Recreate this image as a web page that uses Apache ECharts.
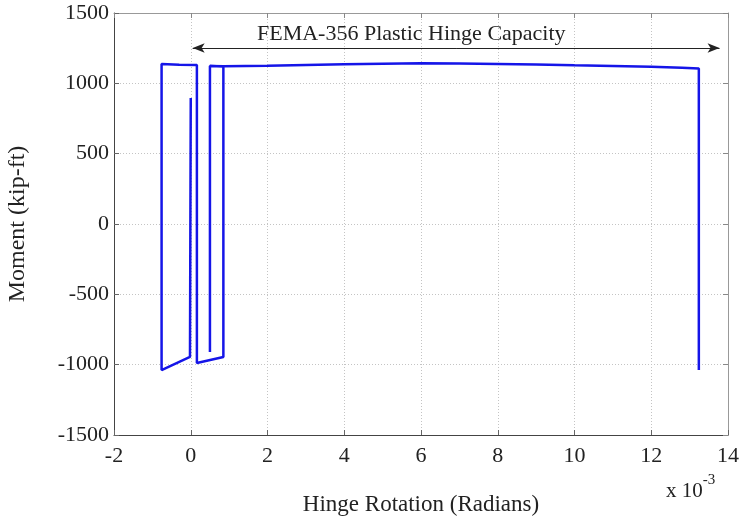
<!DOCTYPE html>
<html>
<head>
<meta charset="utf-8">
<script src="https://cdn.jsdelivr.net/npm/echarts@6/dist/echarts.min.js"></script>
<style>
  html, body { margin: 0; padding: 0; background: #fff; }
  #main { width: 739px; height: 522px; }
</style>
</head>
<body>
<div id="main"></div>
<script>
// 转角 (x 10^-3 rad) 和 弯矩 (kip-ft)
var rotation = [0, -0.02, -0.76, -0.76, -0.3, 0.16, 0.16, 0.85, 0.85, 0.5, 0.5, 0.5, 0.85, 2, 3, 4, 5, 6, 7, 8, 9, 10, 11, 12, 12.8, 13.24, 13.24];
var moment   = [896, -945, -1038, 1137, 1132, 1130, -988, -945, 1120, 1124, -910, 1124, 1122, 1125, 1130, 1135, 1140, 1142, 1141, 1137, 1133, 1128, 1124, 1118, 1110, 1105, -1038];

var xTicks = [-2, 0, 2, 4, 6, 8, 10, 12, 14];
var yTicks = [-1500, -1000, -500, 0, 500, 1000, 1500];

// 塑性铰能力箭头的两端
var arrowX = [0.05, 13.78];
var arrowY = 1251;

var curve = rotation.map(function (r, i) { return [r, moment[i]]; });

var myChart = echarts.init(document.getElementById('main'));

var font = 'Liberation Serif, Times New Roman, serif';

var option = {
    backgroundColor: '#fff',
    animation: false,
    grid: { left: 114, right: 11, top: 13, bottom: 87, containLabel: false, outerBoundsMode: 'none' },
    xAxis: [{
        type: 'value',
        min: xTicks[0],
        max: xTicks[xTicks.length - 1],
        interval: 2,
        name: 'Hinge Rotation (Radians)',
        nameLocation: 'middle',
        nameGap: 58,
        nameTextStyle: { fontFamily: font, fontSize: 23, color: '#222' },
        axisLine: { onZero: false, lineStyle: { color: '#444', width: 1 } },
        axisTick: { inside: true, length: 5, lineStyle: { color: '#666' } },
        axisLabel: { fontFamily: font, fontSize: 22, color: '#222', margin: 10 },
        splitLine: { show: true, lineStyle: { color: '#c4c4c4', type: [1, 2] } }
    }, {
        type: 'value',
        position: 'top',
        min: xTicks[0],
        max: xTicks[xTicks.length - 1],
        interval: 2,
        axisLine: { onZero: false, lineStyle: { color: '#999' } },
        axisTick: { inside: true, length: 5, lineStyle: { color: '#888' } },
        axisLabel: { show: false },
        splitLine: { show: false }
    }],
    yAxis: [{
        type: 'value',
        min: yTicks[0],
        max: yTicks[yTicks.length - 1],
        interval: 500,
        name: 'Moment (kip-ft)',
        nameLocation: 'middle',
        nameGap: 84,
        nameTextStyle: { fontFamily: font, fontSize: 24, color: '#222' },
        axisLine: { show: true, onZero: false, lineStyle: { color: '#444', width: 1 } },
        axisTick: { show: true, inside: true, length: 5, lineStyle: { color: '#666' } },
        axisLabel: { fontFamily: font, fontSize: 22, color: '#222', margin: 5, formatter: function (v) { return String(v); } },
        splitLine: { show: true, lineStyle: { color: '#c4c4c4', type: [1, 2] } }
    }, {
        type: 'value',
        position: 'right',
        min: yTicks[0],
        max: yTicks[yTicks.length - 1],
        interval: 500,
        axisLine: { show: true, onZero: false, lineStyle: { color: '#999' } },
        axisTick: { show: true, inside: true, length: 5, lineStyle: { color: '#888' } },
        axisLabel: { show: false },
        splitLine: { show: false }
    }],
    series: [{
        type: 'line',
        data: curve,
        showSymbol: false,
        lineStyle: { color: '#1515e8', width: 2.5 },
        markLine: {
            silent: true,
            symbol: ['arrow', 'arrow'],
            symbolSize: [7, 12],
            label: { show: false },
            lineStyle: { color: '#222', width: 1, type: 'solid' },
            data: [[
                { coord: [arrowX[0], arrowY] },
                { coord: [arrowX[1], arrowY] }
            ]]
        }
    }],
    graphic: [{
        type: 'text',
        left: 257,
        top: 23,
        style: {
            text: 'FEMA-356 Plastic Hinge Capacity',
            font: '22px ' + font,
            fill: '#222'
        }
    }, {
        type: 'text',
        left: 666,
        top: 473,
        style: {
            text: '{b|x 10}{s|-3}',
            rich: {
                b: { font: '21px ' + font, fill: '#222', padding: [8, 0, 0, 0] },
                s: { font: '15px ' + font, fill: '#222', verticalAlign: 'top', padding: [0, 0, 8, 0] }
            }
        }
    }]
};

myChart.setOption(option);
</script>
</body>
</html>
